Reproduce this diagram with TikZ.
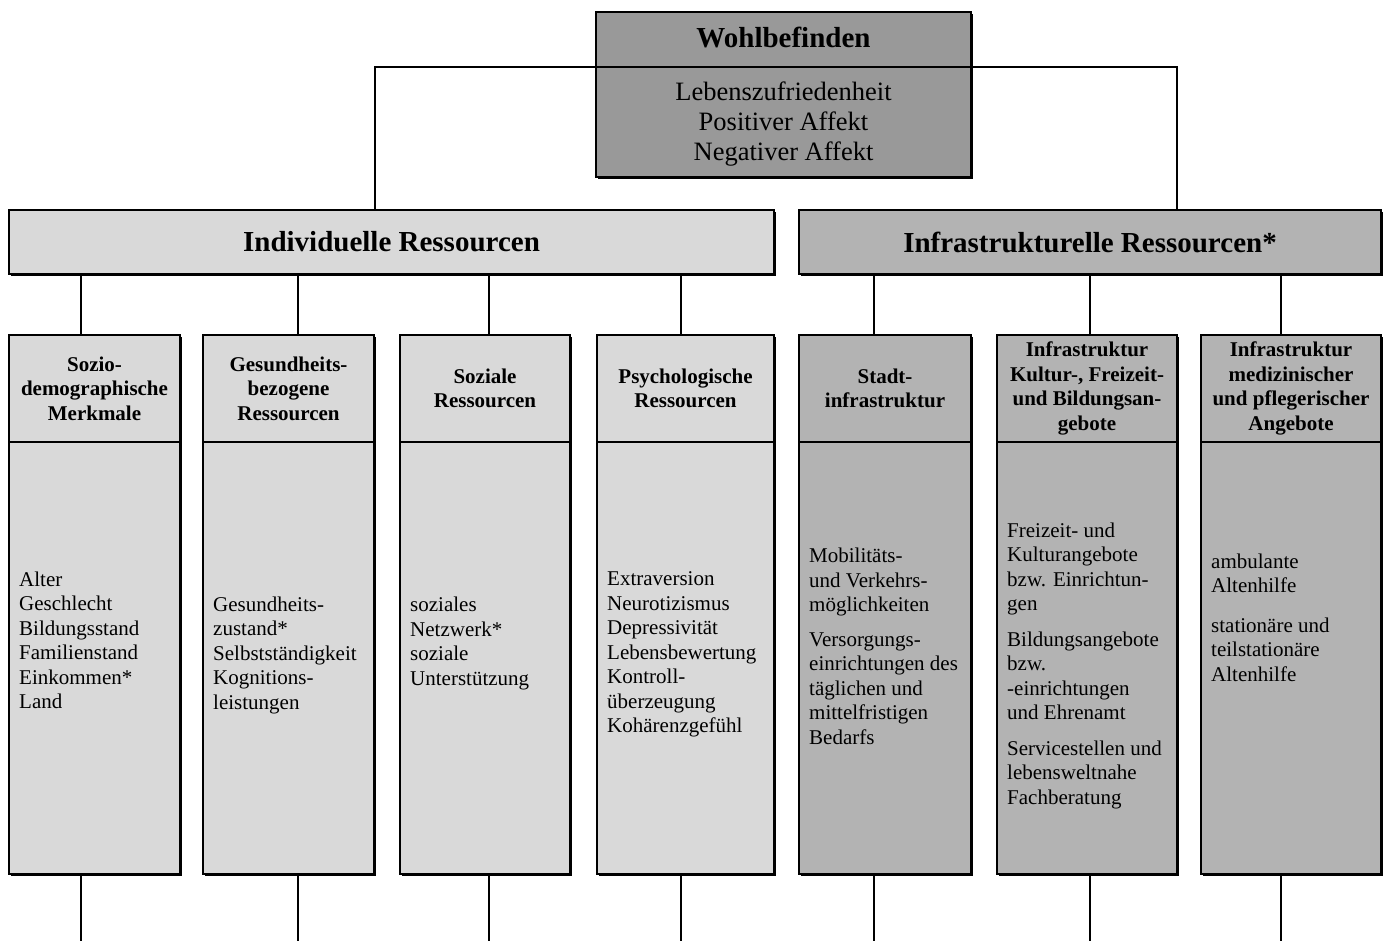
\documentclass[tikz,border=0pt]{standalone}
\usepackage{fontspec}
\setmainfont{Liberation Serif}
\usetikzlibrary{shadows}
\definecolor{lightg}{HTML}{D9D9D9}
\definecolor{midg}{HTML}{B3B3B3}
\definecolor{darkg}{HTML}{999999}
\begin{document}
\begin{tikzpicture}[x=1pt,y=-1pt,
  box/.style={draw=black, line width=2pt, inner sep=0pt, outer sep=0pt, rectangle,
    drop shadow={shadow xshift=2.2pt, shadow yshift=-2.2pt, fill=black, opacity=1}},
  bigfont/.style={font=\fontsize{29}{34}\selectfont\bfseries},
  hfont/.style={font=\fontsize{21}{24.5}\selectfont\bfseries, align=center},
  btext/.style={font=\fontsize{21}{24.5}\selectfont, align=left, inner sep=0pt, anchor=north west, xshift=10pt},
  topconn/.style={line width=2pt},
  conn/.style={line width=1.2pt},
]
\fill[white] (0,0) rectangle (1387,941);
\useasboundingbox (0,0) rectangle (1387,941);

% top box
\node[box, fill=darkg, minimum width=375pt, minimum height=165pt] (wohl) at (783.5,94.5) {};
\node[bigfont, anchor=base] (wohlT) at (783.5,48) {Wohlbefinden};
\node[font=\fontsize{26.5}{30}\selectfont, align=center, anchor=north, inner sep=0pt] (wohlL) at (783.5,82) {Lebenszufriedenheit\\Positiver Affekt\\Negativer Affekt};

% resource boxes
\node[box, fill=lightg, minimum width=765pt, minimum height=64pt, bigfont] (ind) at (391.5,242) {Individuelle Ressourcen};
\node[box, fill=midg, minimum width=582pt, minimum height=64pt, bigfont] (inf) at (1090,242) {Infrastrukturelle Ressourcen*};

\coordinate (wl) at (375,67);
\coordinate (wr) at (1177,67);
\draw[topconn] (ind.north -| wl) -- (wl) -- (wr) -- (inf.north -| wr);

% columns
\node[box, fill=lightg, minimum width=171pt, minimum height=107pt, hfont] (h1) at (94.5,388.5) {Sozio-\\demographische\\Merkmale};
\node[box, fill=lightg, minimum width=171pt, minimum height=432pt] (b1) at (94.5,658) {};
\node[btext] (t1) at (b1.west |- 0,571.5) {Alter\\Geschlecht\\Bildungsstand\\Familienstand\\Einkommen*\\Land};

\node[box, fill=lightg, minimum width=171pt, minimum height=107pt, hfont] (h2) at (288.5,388.5) {Gesundheits-\\bezogene\\Ressourcen};
\node[box, fill=lightg, minimum width=171pt, minimum height=432pt] (b2) at (288.5,658) {};
\node[btext] (t2) at (b2.west |- 0,596.5) {Gesundheits-\\zustand*\\Selbstständigkeit\\Kognitions-\\leistungen};

\node[box, fill=lightg, minimum width=170pt, minimum height=107pt, hfont] (h3) at (485,388.5) {Soziale\\Ressourcen};
\node[box, fill=lightg, minimum width=170pt, minimum height=432pt] (b3) at (485,658) {};
\node[btext] (t3) at (b3.west |- 0,597) {soziales\\Netzwerk*\\soziale\\Unterstützung};

\node[box, fill=lightg, minimum width=177pt, minimum height=107pt, hfont] (h4) at (685.5,388.5) {Psychologische\\Ressourcen};
\node[box, fill=lightg, minimum width=177pt, minimum height=432pt] (b4) at (685.5,658) {};
\node[btext] (t4) at (b4.west |- 0,571.5) {Extraversion\\Neurotizismus\\Depressivität\\Lebensbewertung\\Kontroll-\\überzeugung\\Kohärenzgefühl};

\node[box, fill=midg, minimum width=172pt, minimum height=107pt, hfont] (h5) at (885,388.5) {Stadt-\\infrastruktur};
\node[box, fill=midg, minimum width=172pt, minimum height=432pt] (b5) at (885,658) {};
\node[btext] (t5) at (b5.west |- 0,548) {Mobilitäts-\\und Verkehrs-\\möglichkeiten\\[10pt]Versorgungs-\\einrichtungen des\\täglichen und\\mittelfristigen\\Bedarfs};

\node[box, fill=midg, minimum width=180pt, minimum height=107pt, hfont] (h6) at (1087,388.5) {Infrastruktur\\Kultur-, Freizeit-\\und Bildungsan-\\gebote};
\node[box, fill=midg, minimum width=180pt, minimum height=432pt] (b6) at (1087,658) {};
\node[btext] (t6) at (b6.west |- 0,522.5) {Freizeit- und\\Kulturangebote\\bzw. Einrichtun-\\gen\\[11pt]Bildungsangebote\\bzw.\\-einrichtungen\\und Ehrenamt\\[11pt]Servicestellen und\\lebensweltnahe\\Fachberatung};

\node[box, fill=midg, minimum width=180pt, minimum height=107pt, hfont] (h7) at (1291,388.5) {Infrastruktur\\medizinischer\\und pflegerischer\\Angebote};
\node[box, fill=midg, minimum width=180pt, minimum height=432pt] (b7) at (1291,658) {};
\node[btext] (t7) at (b7.west |- 0,553.5) {ambulante\\Altenhilfe\\[15pt]stationäre und\\teilstationäre\\Altenhilfe};

% connectors from resource boxes to columns
\draw[conn] (ind.south -| 81,0) -- (h1.north -| 81,0);
\draw[conn] (ind.south -| 298,0) -- (h2.north -| 298,0);
\draw[conn] (ind.south -| 489,0) -- (h3.north -| 489,0);
\draw[conn] (ind.south -| 681,0) -- (h4.north -| 681,0);
\draw[conn] (inf.south -| 874,0) -- (h5.north -| 874,0);
\draw[conn] (inf.south -| 1090,0) -- (h6.north -| 1090,0);
\draw[conn] (inf.south -| 1281,0) -- (h7.north -| 1281,0);

% loose ends at bottom
\coordinate (e1) at (81,941);
\coordinate (e2) at (298,941);
\coordinate (e3) at (489,941);
\coordinate (e4) at (681,941);
\coordinate (e5) at (874,941);
\coordinate (e6) at (1090,941);
\coordinate (e7) at (1281,941);
\draw[conn] (b1.south -| e1) -- (e1);
\draw[conn] (b2.south -| e2) -- (e2);
\draw[conn] (b3.south -| e3) -- (e3);
\draw[conn] (b4.south -| e4) -- (e4);
\draw[conn] (b5.south -| e5) -- (e5);
\draw[conn] (b6.south -| e6) -- (e6);
\draw[conn] (b7.south -| e7) -- (e7);
\end{tikzpicture}
\end{document}
